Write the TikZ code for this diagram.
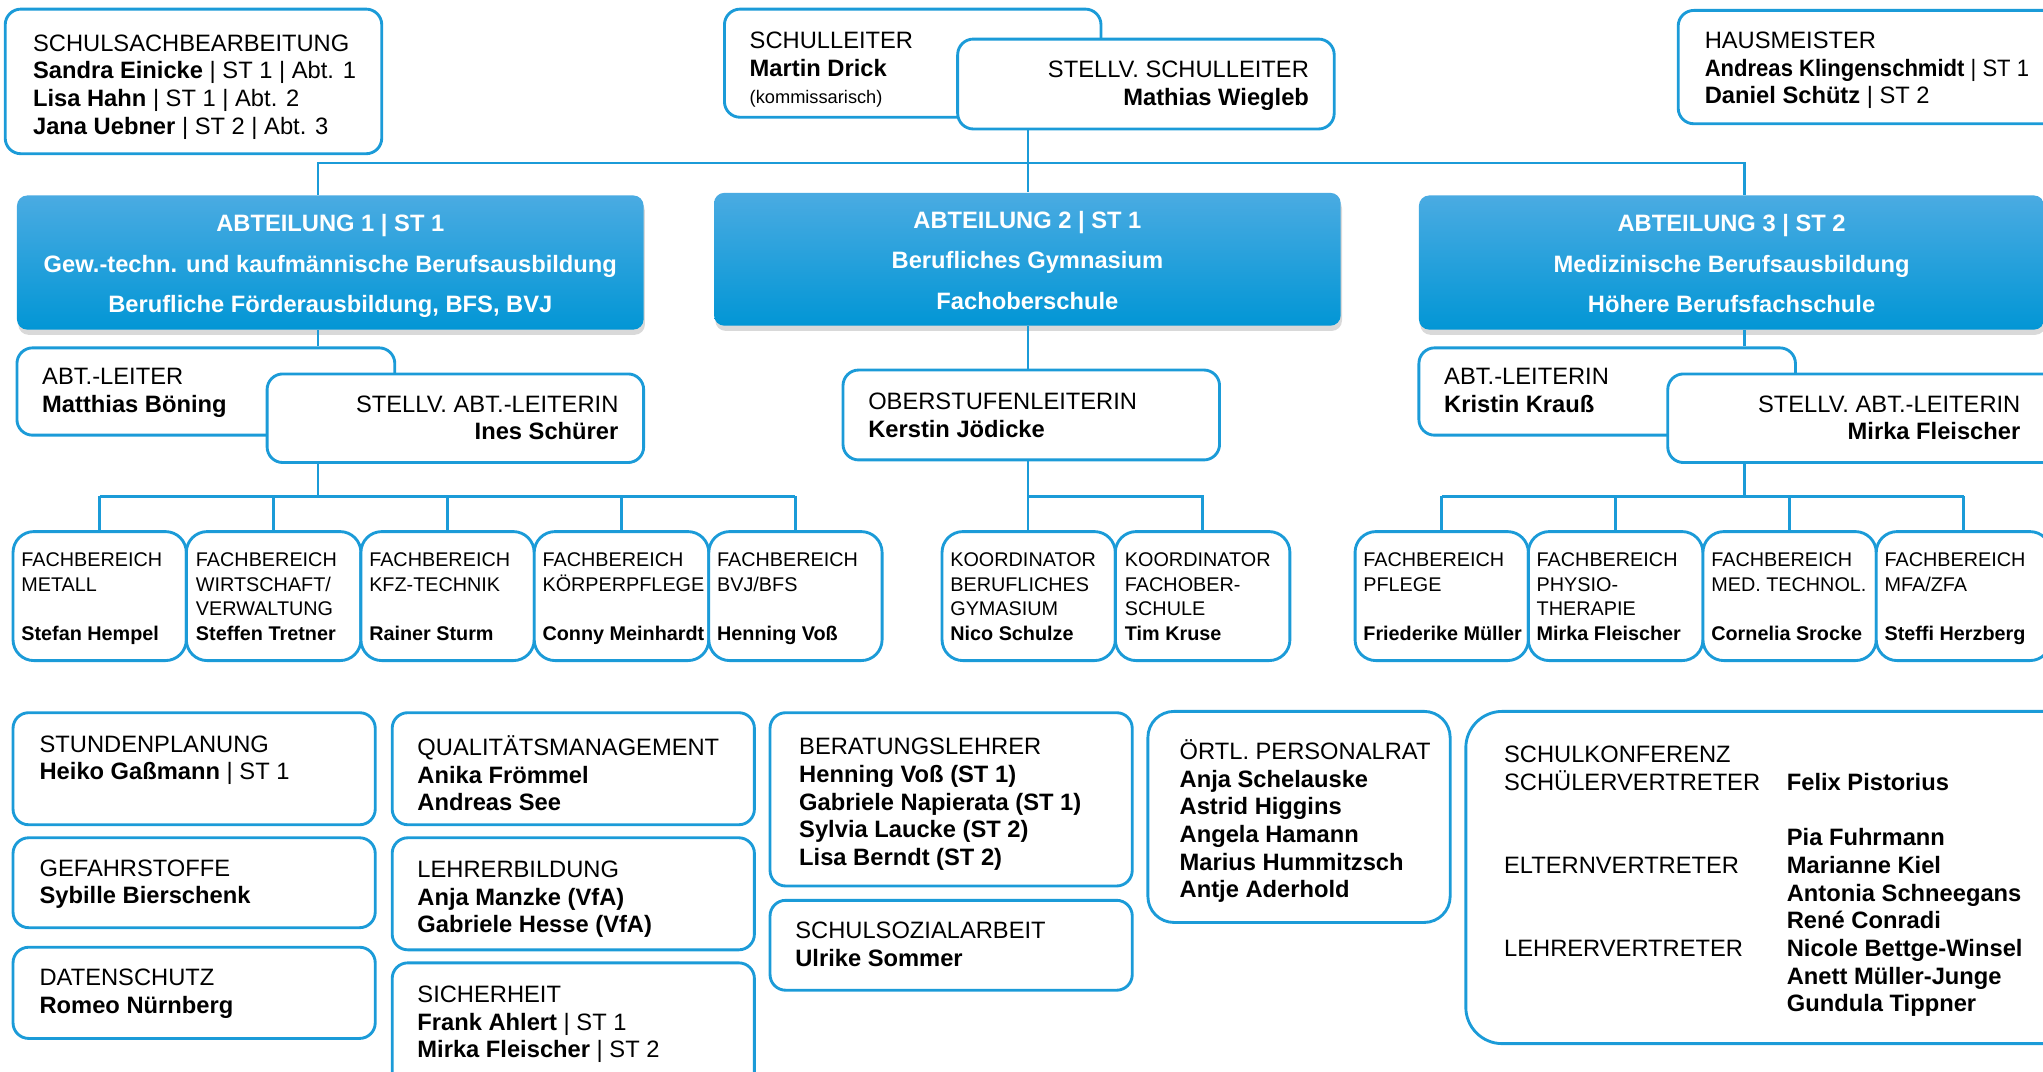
\documentclass[tikz,border=0pt]{standalone}
\usepackage{fontspec}
\setmainfont{Liberation Sans}
\usepackage{graphicx}
\usepackage{tikz}
\usetikzlibrary{fit, shadows}

\definecolor{blau}{RGB}{27,155,216}
\definecolor{blauhell}{RGB}{74,171,226}
\definecolor{blaudunkel}{RGB}{2,150,213}

\tikzset{
	kasten/.style	= {draw=blau, line width=1.1pt, rounded corners=6pt, fill=white, inner sep=0pt},
	abt/.style		= {rounded corners=4pt, top color=blauhell, bottom color=blaudunkel, inner sep=0pt,
						drop shadow={opacity=0.3, shadow xshift=0.5pt, shadow yshift=-2pt}},
	txt/.style		= {anchor=north west, align=left, inner sep=0pt, yshift=-1.3pt, font=\fontsize{9.1}{10.6}\selectfont, execute at begin node=\strut},
	txtr/.style		= {txt, anchor=north east, align=right},
	klein/.style	= {txt, font=\fontsize{7.6}{9.5}\selectfont},
	abttxt/.style	= {align=center, inner sep=0pt, yshift=-1.4pt, text=white, font=\bfseries\fontsize{9.1}{15.5}\selectfont},
	linie/.style	= {draw=blau, line width=1pt}
}

\begin{document}
\begin{tikzpicture}[x=0.5pt, y=-0.5pt]

\path[use as bounding box, clip] (0,0) rectangle (1568,822);

\node[kasten, fit={(4,7) (293,118)}]			(sachb)		{};
\node[kasten, fit={(556,7) (845,90)}]			(sl)		{};
\node[kasten, fit={(735,30) (1024,99)}]			(stv)		{};
\node[kasten, fit={(1288,8) (1600,95)}]			(haus)		{};

\node[txt]	(sachb-t)	at (25,23.7)	{SCHULSACHBEARBEITUNG\\ \textbf{Sandra Einicke} | ST 1 | Abt. 1\\ \textbf{Lisa Hahn} | ST 1 | Abt. 2\\ \textbf{Jana Uebner} | ST 2 | Abt. 3};
\node[txt]	(sl-t)		at (575,21.7)	{SCHULLEITER\\ \textbf{Martin Drick}\\ {\fontsize{7}{8}\selectfont (kommissarisch)}};
\node[txtr]	(stv-t)		at (1005,43.7)	{STELLV. SCHULLEITER\\ \textbf{Mathias Wiegleb}};
\node[txt]	(haus-t)	at (1308,21.7)	{HAUSMEISTER\\ \scalebox{0.93}[1]{\textbf{Andreas Klingenschmidt} | ST 1}\\ \textbf{Daniel Schütz} | ST 2};

\node[abt, fit={(13,150) (494,253)}]			(abt1)		{};
\node[abt, fit={(548,148) (1029,250)}]			(abt2)		{};
\node[abt, fit={(1089,150) (1569,253)}]			(abt3)		{};

\node[abttxt]				(abt1-t)	at (abt1)	{ABTEILUNG 1 | ST 1\\ Gew.-techn. und kaufmännische Berufsausbildung\\ Berufliche Förderausbildung, BFS, BVJ};
\node[abttxt, yshift=1pt]	(abt2-t)	at (abt2)	{ABTEILUNG 2 | ST 1\\ Berufliches Gymnasium\\ Fachoberschule};
\node[abttxt, yshift=1pt]	(abt3-t)	at (abt3)	{ABTEILUNG 3 | ST 2\\ Medizinische Berufsausbildung\\ Höhere Berufsfachschule};

\node[kasten, fit={(13,267) (303,334)}]			(al1)		{};
\node[kasten, fit={(205,287) (494,355)}]		(stv1)		{};
\node[kasten, fit={(647,284) (936,353)}]		(ober)		{};
\node[kasten, fit={(1089,267) (1378,334)}]		(al3)		{};
\node[kasten, fit={(1280,287) (1600,355)}]		(stv3)		{};

\node[txt]	(al1-t)		at (32,279.7)	{ABT.-LEITER\\ \textbf{Matthias Böning}};
\node[txtr]	(stv1-t)	at (475,300.7)	{STELLV. ABT.-LEITERIN\\ \textbf{Ines Schürer}};
\node[txt]	(ober-t)	at (666,298.7)	{OBERSTUFENLEITERIN\\ \textbf{Kerstin Jödicke}};
\node[txt]	(al3-t)		at (1108,279.7)	{ABT.-LEITERIN\\ \textbf{Kristin Krauß}};
\node[txtr]	(stv3-t)	at (1551,300.7)	{STELLV. ABT.-LEITERIN\\ \textbf{Mirka Fleischer}};

\node[kasten, rounded corners=8pt, fit={(10,408) (143,507)}]		(fb1)	{};
\node[kasten, rounded corners=8pt, fit={(143,408) (277,507)}]		(fb2)	{};
\node[kasten, rounded corners=8pt, fit={(277,408) (410,507)}]		(fb3)	{};
\node[kasten, rounded corners=8pt, fit={(410,408) (544,507)}]		(fb4)	{};
\node[kasten, rounded corners=8pt, fit={(544,408) (677,507)}]		(fb5)	{};
\node[kasten, rounded corners=8pt, fit={(723,408) (856,507)}]		(ko1)	{};
\node[kasten, rounded corners=8pt, fit={(856,408) (990,507)}]		(ko2)	{};
\node[kasten, rounded corners=8pt, fit={(1040,408) (1173,507)}]	(fb6)	{};
\node[kasten, rounded corners=8pt, fit={(1173,408) (1307,507)}]	(fb7)	{};
\node[kasten, rounded corners=8pt, fit={(1307,408) (1440,507)}]	(fb8)	{};
\node[kasten, rounded corners=8pt, fit={(1440,408) (1574,507)}]	(fb9)	{};

\node[klein]	(fb1-t)	at (16,421.1)	{FACHBEREICH\\ METALL\\[9.5pt] \textbf{Stefan Hempel}};
\node[klein]	(fb2-t)	at (150,421.1)	{FACHBEREICH\\ WIRTSCHAFT/\\ VERWALTUNG\\ \textbf{Steffen Tretner}};
\node[klein]	(fb3-t)	at (283,421.1)	{FACHBEREICH\\ KFZ-TECHNIK\\[9.5pt] \textbf{Rainer Sturm}};
\node[klein]	(fb4-t)	at (416,421.1)	{FACHBEREICH\\ KÖRPERPFLEGE\\[9.5pt] \textbf{Conny Meinhardt}};
\node[klein]	(fb5-t)	at (550,421.1)	{FACHBEREICH\\ BVJ/BFS\\[9.5pt] \textbf{Henning Voß}};
\node[klein]	(ko1-t)	at (729,421.1)	{KOORDINATOR\\ BERUFLICHES\\ GYMASIUM\\ \textbf{Nico Schulze}};
\node[klein]	(ko2-t)	at (863,421.1)	{KOORDINATOR\\ FACHOBER-\\ SCHULE\\ \textbf{Tim Kruse}};
\node[klein]	(fb6-t)	at (1046,421.1)	{FACHBEREICH\\ PFLEGE\\[9.5pt] \textbf{Friederike Müller}};
\node[klein]	(fb7-t)	at (1179,421.1)	{FACHBEREICH\\ PHYSIO-\\ THERAPIE\\ \textbf{Mirka Fleischer}};
\node[klein]	(fb8-t)	at (1313,421.1)	{FACHBEREICH\\ MED. TECHNOL.\\[9.5pt] \textbf{Cornelia Srocke}};
\node[klein]	(fb9-t)	at (1446,421.1)	{FACHBEREICH\\ MFA/ZFA\\[9.5pt] \textbf{Steffi Herzberg}};

\node[kasten, fit={(10,547) (288,633)}]			(stunden)	{};
\node[kasten, fit={(10,643) (288,712)}]			(gefahr)	{};
\node[kasten, fit={(10,727) (288,797)}]			(daten)		{};
\node[kasten, fit={(301,547) (579,633)}]		(quali)		{};
\node[kasten, fit={(301,643) (579,729)}]		(lehrer)	{};
\node[kasten, fit={(301,739) (579,840)}]		(sicher)	{};
\node[kasten, fit={(591,547) (869,680)}]		(berat)		{};
\node[kasten, fit={(591,691) (869,760)}]		(sozial)	{};
\node[kasten, rounded corners=10pt, fit={(881,546) (1113,708)}]	(prat)	{};
\node[kasten, rounded corners=14pt, fit={(1125,546) (1600,801)}]	(konf)	{};

\node[txt]	(stunden-t)	at (30,561.7)	{STUNDENPLANUNG\\ \textbf{Heiko Gaßmann} | ST 1};
\node[txt]	(gefahr-t)	at (30,656.7)	{GEFAHRSTOFFE\\ \textbf{Sybille Bierschenk}};
\node[txt]	(daten-t)	at (30,740.7)	{DATENSCHUTZ\\ \textbf{Romeo Nürnberg}};
\node[txt]	(quali-t)	at (320,561.7)	{QUALITÄTSMANAGEMENT\\ \textbf{Anika Frömmel}\\ \textbf{Andreas See}};
\node[txt]	(lehrer-t)	at (320,657.7)	{LEHRERBILDUNG\\ \textbf{Anja Manzke (VfA)}\\ \textbf{Gabriele Hesse (VfA)}};
\node[txt]	(sicher-t)	at (320,753.7)	{SICHERHEIT\\ \textbf{Frank Ahlert} | ST 1\\ \textbf{Mirka Fleischer} | ST 2};
\node[txt]	(berat-t)	at (613,563.7)	{BERATUNGSLEHRER\\ \textbf{Henning Voß (ST 1)}\\ \textbf{Gabriele Napierata (ST 1)}\\ \textbf{Sylvia Laucke (ST 2)}\\ \textbf{Lisa Berndt (ST 2)}};
\node[txt]	(sozial-t)	at (610,704.7)	{SCHULSOZIALARBEIT\\ \textbf{Ulrike Sommer}};
\node[txt]	(prat-t)	at (905,564.7)	{ÖRTL. PERSONALRAT\\ \textbf{Anja Schelauske}\\ \textbf{Astrid Higgins}\\ \textbf{Angela Hamann}\\ \textbf{Marius Hummitzsch}\\ \textbf{Antje Aderhold}};
\node[txt]	(konf-t)	at (1154,569.7)	{SCHULKONFERENZ\\ SCHÜLERVERTRETER\\[21.2pt] ELTERNVERTRETER\\[21.2pt] LEHRERVERTRETER};
\node[txt, font=\bfseries\fontsize{9.1}{10.6}\selectfont]	(konf-n)	at (1371,590.7)	{Felix Pistorius\\[10.6pt] Pia Fuhrmann\\ Marianne Kiel\\ Antonia Schneegans\\ René Conradi\\ Nicole Bettge-Winsel\\ Anett Müller-Junge\\ Gundula Tippner};

\coordinate (s1) at (244,125);
\coordinate (s2) at (789,125);
\coordinate (s3) at (1339,125);
\coordinate (h1) at (244,381);
\coordinate (h2) at (789,381);
\coordinate (h3) at (1339,381);

\draw[linie]	(s1 |- abt1.north) -- (s1) -- (s3) -- (s3 |- abt3.north);
\draw[linie]	(s2 |- stv.south) -- (s2 |- abt2.north);
\draw[linie]	(s1 |- abt1.south) -- (s1 |- al1.north);
\draw[linie]	(s2 |- abt2.south) -- (s2 |- ober.north);
\draw[linie]	(s3 |- abt3.south) -- (s3 |- al3.north);

\draw[linie]	(s1 |- stv1.south) -- (h1);
\draw[linie]	(h1 -| fb1.north) -- (h1 -| fb5.north);
\foreach \i in {1,...,5}
	\draw[linie]	(h1 -| fb\i.north) -- (fb\i.north);

\draw[linie]	(s2 |- ober.south) -- (s2 |- ko1.north);
\draw[linie]	(h2) -| (ko2.north);

\draw[linie]	(s3 |- stv3.south) -- (h3);
\draw[linie]	(h3 -| fb6.north) -- (h3 -| fb9.north);
\foreach \i in {6,...,9}
	\draw[linie]	(h3 -| fb\i.north) -- (fb\i.north);

\end{tikzpicture}
\end{document}
